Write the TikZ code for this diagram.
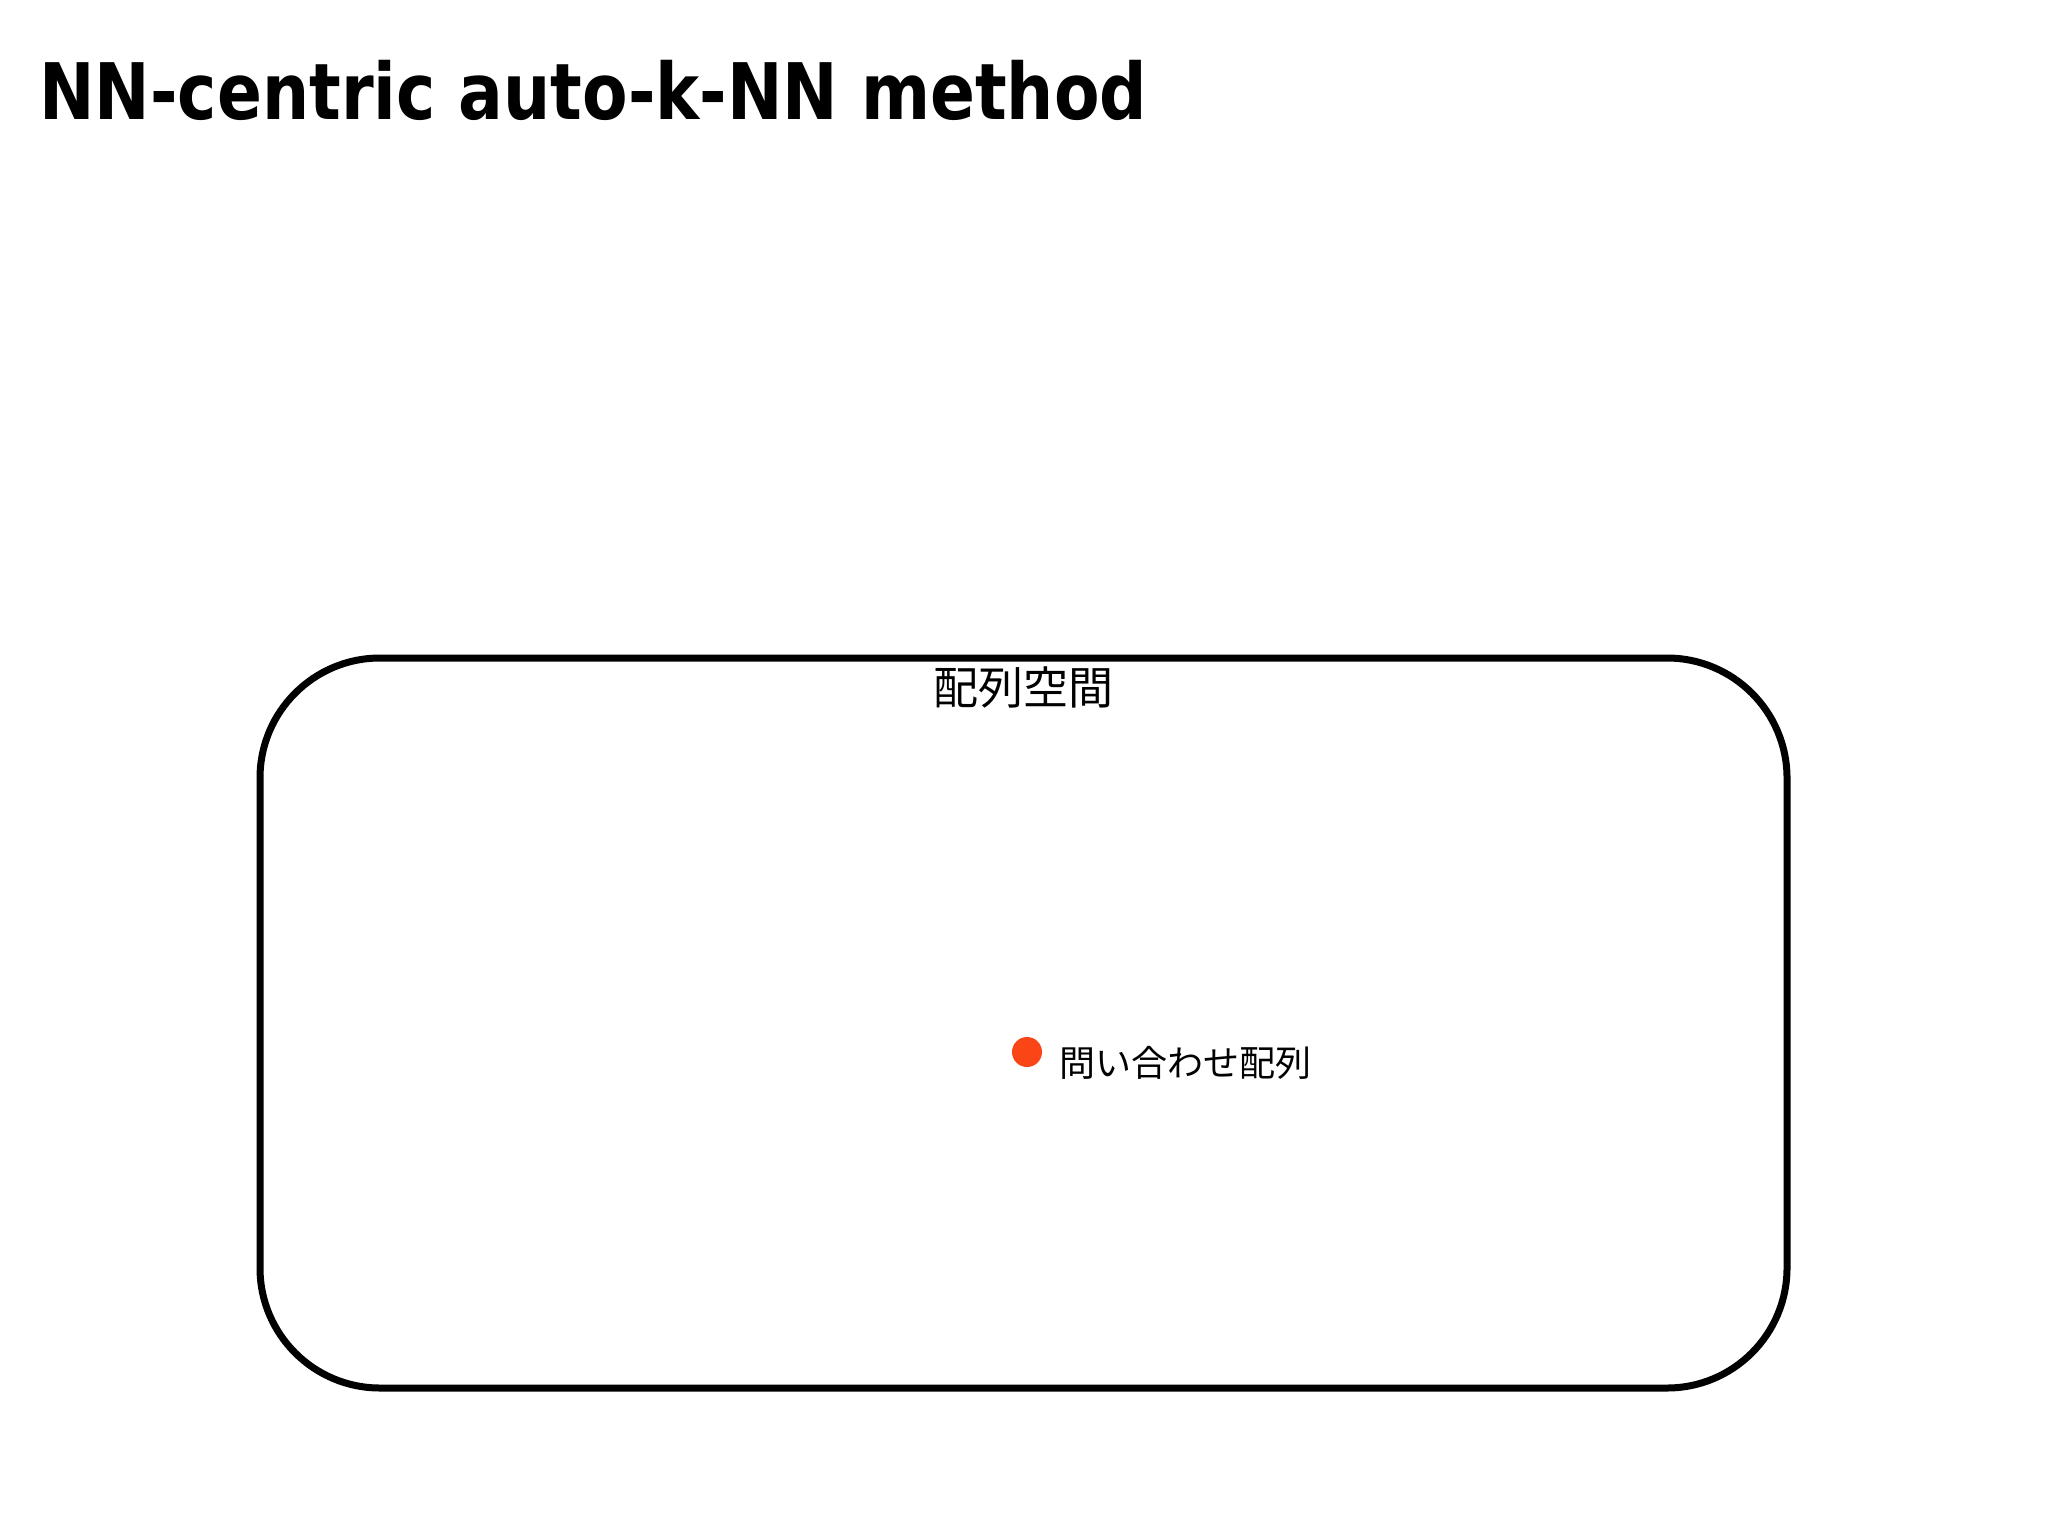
\documentclass[tikz,border=0pt]{standalone}
\usepackage{fontspec}
\setmainfont{Noto Sans CJK JP}
\newfontfamily\titlefont[FakeStretch=0.85]{DejaVu Sans}
\definecolor{querydot}{RGB}{250,69,22}
\begin{document}
\begin{tikzpicture}[x=0.5pt, y=-0.5pt,
    spacebox/.style={draw, line width=3.5pt, rounded corners=60pt,
      minimum width=763.5pt, minimum height=365pt, inner sep=0pt},
    point/.style={circle, fill=querydot, minimum size=15pt, inner sep=0pt}]
  \useasboundingbox (0,0) rectangle (2048,1535);
  \node[anchor=base west, inner sep=0pt, font=\titlefont\bfseries\fontsize{39}{47}\selectfont] (title) at (39,120) {NN-centric auto-k-NN method};
  \node[spacebox] (space) at (1023.5,1023) {};
  \node[inner sep=0pt, font=\fontsize{22.5}{27}\selectfont] (spacelabel) at (1023,687) {配列空間};
  \node[point] (query) at (1027,1052) {};
  \node[anchor=west, inner sep=0pt, font=\fontsize{18}{22}\selectfont] (querylabel) at (1059,1063) {問い合わせ配列};
\end{tikzpicture}
\end{document}
